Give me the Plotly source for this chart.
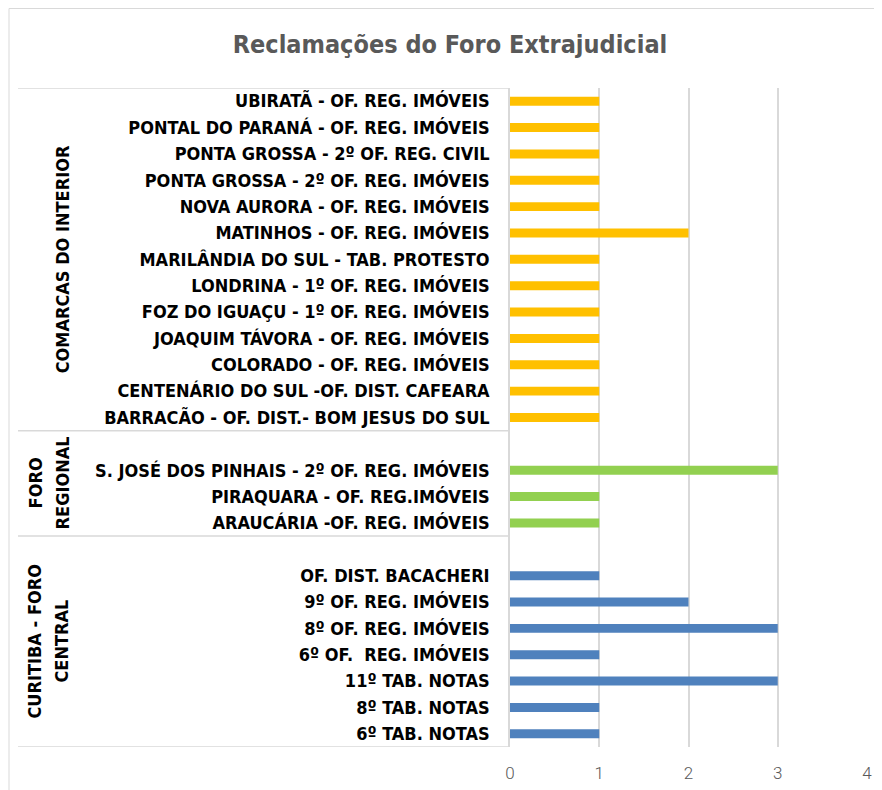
import plotly.graph_objects as go

# ---- data ----
curitiba_labels = ["6º TAB. NOTAS", "8º TAB. NOTAS", "11º TAB. NOTAS", "6º OF.  REG. IMÓVEIS",
                   "8º OF. REG. IMÓVEIS", "9º OF. REG. IMÓVEIS", "OF. DIST. BACACHERI"]
curitiba_values = [1, 1, 3, 1, 3, 2, 1]

regional_labels = ["ARAUCÁRIA -OF. REG. IMÓVEIS", "PIRAQUARA - OF. REG.IMÓVEIS",
                   "S. JOSÉ DOS PINHAIS - 2º OF. REG. IMÓVEIS"]
regional_values = [1, 1, 3]

interior_labels = ["BARRACÃO - OF. DIST.- BOM JESUS DO SUL", "CENTENÁRIO DO SUL -OF. DIST. CAFEARA",
                   "COLORADO - OF. REG. IMÓVEIS", "JOAQUIM TÁVORA - OF. REG. IMÓVEIS",
                   "FOZ DO IGUAÇU - 1º OF. REG. IMÓVEIS", "LONDRINA - 1º OF. REG. IMÓVEIS",
                   "MARILÂNDIA DO SUL - TAB. PROTESTO", "MATINHOS - OF. REG. IMÓVEIS",
                   "NOVA AURORA - OF. REG. IMÓVEIS", "PONTA GROSSA - 2º OF. REG. IMÓVEIS",
                   "PONTA GROSSA - 2º OF. REG. CIVIL", "PONTAL DO PARANÁ - OF. REG. IMÓVEIS",
                   "UBIRATÃ - OF. REG. IMÓVEIS"]
interior_values = [1, 1, 1, 1, 1, 1, 1, 2, 1, 1, 1, 1, 1]

group_names = [["CURITIBA - FORO", "CENTRAL"], ["FORO", "REGIONAL"], ["COMARCAS DO INTERIOR"]]
x_ticks = [0, 1, 2, 3, 4]

# category order bottom->top, with one empty slot on top of the first two groups
gap1, gap2 = " ", "  "
category_order = curitiba_labels + [gap1] + regional_labels + [gap2] + interior_labels

colors = ["#4F81BD", "#92D050", "#FFC000"]
COND = "DejaVu Sans Condensed, DejaVu Sans, sans-serif"

fig = go.Figure()
for labels, values, color in [(curitiba_labels, curitiba_values, colors[0]),
                              (regional_labels, regional_values, colors[1]),
                              (interior_labels, interior_values, colors[2])]:
    fig.add_trace(go.Bar(x=values, y=labels, orientation="h", width=0.34,
                         marker=dict(color=color, line=dict(width=0)),
                         showlegend=False))

OFF = 8  # page body margin
W, H = 882 - OFF, 790 - OFF
ml, mt = 510 - OFF, 88 - OFF
pw, ph = 357, 659
mr = W - ml - pw
mb = H - mt - ph

def px_to_paper_x(px):
    return (px - OFF - ml) / pw

def px_to_paper_y(py):
    return 1 - (py - OFF - mt) / ph

n_cat = len(category_order)
b_cur = len(curitiba_labels) + 1 - 0.5
b_reg = b_cur + len(regional_labels) + 1
bounds = [-0.5, b_cur, b_reg, n_cat - 0.5]

shapes = []
for b in bounds:
    shapes.append(dict(type="line", xref="paper", yref="y",
                       x0=px_to_paper_x(18), x1=0, y0=b, y1=b,
                       line=dict(color="#D9D9D9", width=1.5)))
# outer chart border (left and top)
shapes.append(dict(type="line", xref="paper", yref="paper",
                   x0=px_to_paper_x(9), x1=px_to_paper_x(9),
                   y0=px_to_paper_y(8.5), y1=px_to_paper_y(800),
                   line=dict(color="#D9D9D9", width=1)))
shapes.append(dict(type="line", xref="paper", yref="paper",
                   x0=px_to_paper_x(9), x1=px_to_paper_x(900),
                   y0=px_to_paper_y(8.5), y1=px_to_paper_y(8.5),
                   line=dict(color="#D9D9D9", width=1)))

group_centers = [(bounds[0] + bounds[1]) / 2, (bounds[1] + bounds[2]) / 2,
                 (bounds[2] + bounds[3]) / 2]
annotations = []
for lines, yc in zip(group_names, group_centers):
    xs = [35, 62] if len(lines) == 2 else [62]
    for line, gx in zip(lines, xs):
        annotations.append(dict(text=line, xref="paper", yref="y",
                                x=px_to_paper_x(gx), y=yc, textangle=-90,
                                showarrow=False, xanchor="center", yanchor="middle",
                                font=dict(family=COND, size=18, color="#000000", weight="bold")))

fig.update_layout(
    width=W, height=H,
    margin=dict(l=ml, r=mr, t=mt, b=mb, pad=0),
    paper_bgcolor="white", plot_bgcolor="white",
    title=dict(text="Reclamações do Foro Extrajudicial", xref="container",
               x=(450 - OFF) / W, y=1 - (44 - OFF) / H, xanchor="center", yanchor="middle",
               font=dict(family=COND, size=25, color="#595959", weight="bold")),
    barmode="overlay",
    shapes=shapes,
    annotations=annotations,
    xaxis=dict(range=[0, 4], tickvals=x_ticks, showgrid=True, gridcolor="#D9D9D9",
               gridwidth=1.5, zeroline=False, showline=False, ticks="",
               ticklabelstandoff=14, automargin=False,
               tickfont=dict(family="Roboto, sans-serif", size=17, color="#595959", weight=300),
               fixedrange=True),
    yaxis=dict(type="category", categoryorder="array", categoryarray=category_order,
               range=[-0.5, n_cat - 0.5], showgrid=False, zeroline=False,
               showline=True, linecolor="#D9D9D9", linewidth=1.5, ticks="",
               ticklabelstandoff=15, automargin=False,
               tickfont=dict(family=COND, size=18, color="#000000", weight="bold"),
               fixedrange=True),
)

fig.write_html("out.html")
